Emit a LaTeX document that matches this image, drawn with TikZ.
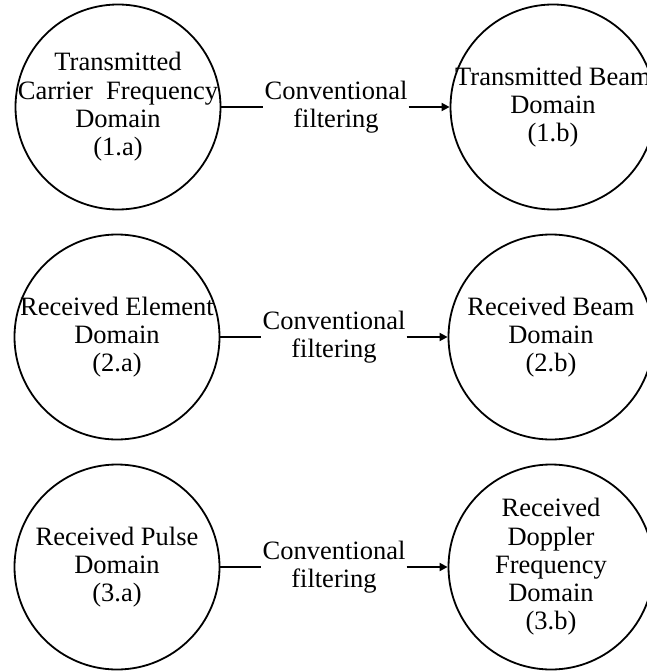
\documentclass[tikz,border=0pt]{standalone}
\usepackage{fontspec}
\setmainfont{Liberation Serif}
\usetikzlibrary{arrows.meta}
\tikzset{
  dom/.style={circle, draw, line width=1.8pt, minimum size=205pt, inner sep=0pt},
  domtext/.style={align=center, inner sep=0pt, font=\fontsize{26.5}{28.3}\selectfont},
  filt/.style={align=center, inner sep=1pt, font=\fontsize{26.5}{28.3}\selectfont},
  conn/.style={line width=1.8pt},
  arr/.style={line width=1.8pt, -{Triangle[length=8pt,width=8pt]}}
}
\begin{document}
\begin{tikzpicture}[x=1pt,y=-1pt]
\useasboundingbox (0,0) rectangle (646,671);
% row 1
\node[dom] (a1) at (118,107) {};
\node[domtext] (a1t) at (a1.center) {Transmitted\\Carrier\ \ Frequency\\Domain\\(1.a)};
\node[dom] (b1) at (553,107) {};
\node[domtext] (b1t) at (b1.center) {Transmitted Beam\\Domain\\(1.b)};
\node[filt] (f1) at (336,107) {Conventional\\filtering};
\draw[conn] (a1) -- (f1);
\draw[arr] (f1) -- (b1);
% row 2
\node[dom] (a2) at (117,337) {};
\node[domtext] (a2t) at (a2.center) {Received Element\\Domain\\(2.a)};
\node[dom] (b2) at (551,337) {};
\node[domtext] (b2t) at (b2.center) {Received Beam\\Domain\\(2.b)};
\node[filt] (f2) at (334,337) {Conventional\\filtering};
\draw[conn] (a2) -- (f2);
\draw[arr] (f2) -- (b2);
% row 3
\node[dom] (a3) at (117,567) {};
\node[domtext] (a3t) at (a3.center) {Received Pulse\\Domain\\(3.a)};
\node[dom] (b3) at (551,567) {};
\node[domtext] (b3t) at (b3.center) {Received\\Doppler\\Frequency\\Domain\\(3.b)};
\node[filt] (f3) at (334,567) {Conventional\\filtering};
\draw[conn] (a3) -- (f3);
\draw[arr] (f3) -- (b3);
\end{tikzpicture}
\end{document}
